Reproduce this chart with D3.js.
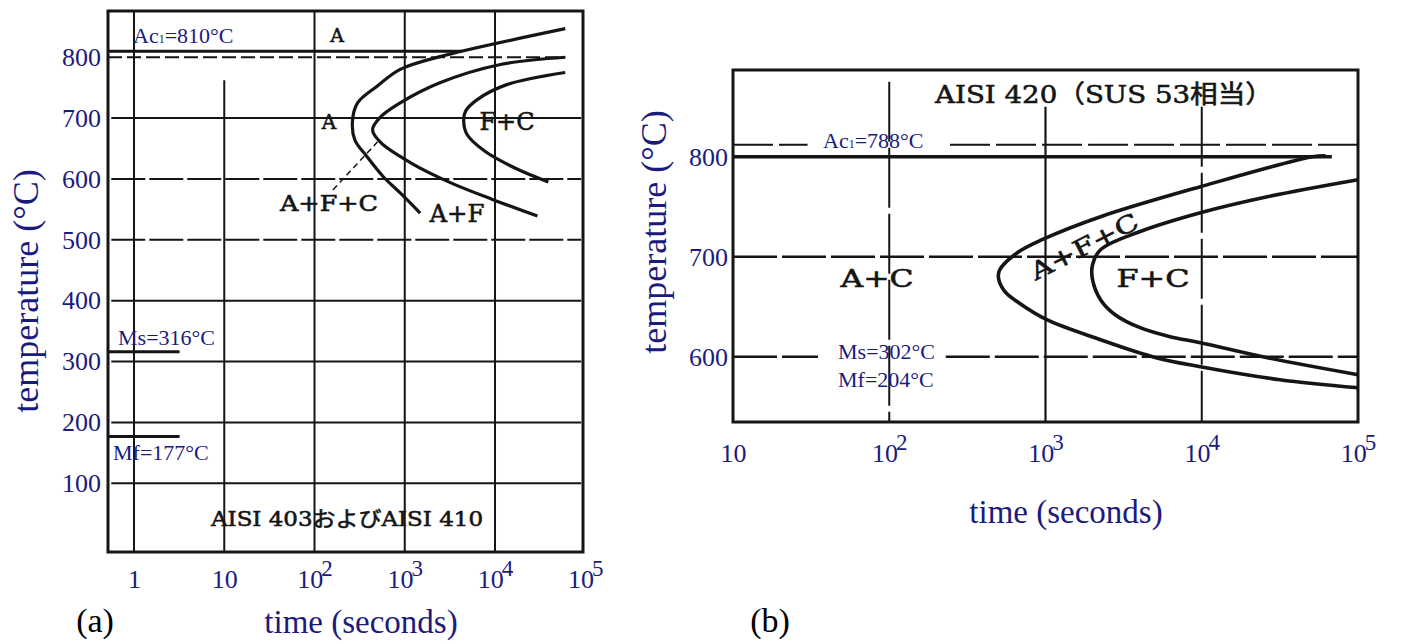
<!DOCTYPE html>
<html>
<head>
<meta charset="utf-8">
<script src="https://cdnjs.cloudflare.com/ajax/libs/d3/7.8.5/d3.min.js"></script>
<style>
body { margin: 0; background: #fff; }
</style>
</head>
<body>
<script>
// ---- panel (a): AISI 403 / AISI 410 ----
var tempTicksA = [100, 200, 300, 400, 500, 600, 700, 800];
var gridTempsA = [100, 200, 300, 400, 500, 600, 700];
var timeTicksA = [1, 10, 100, 1000, 10000, 100000];
var gridTimesA = [1, 10, 100, 1000, 10000];
var critNamesA = ["Ac1", "Ms", "Mf"];
var critTempsA = [810, 316, 177];
// transformation curves, [time s, temp C]
var curveA1 = [[60000, 847], [2450, 801], [890, 780], [490, 752], [300, 725], [263, 694],
               [280, 664], [380, 637], [575, 604], [890, 577], [1480, 544]];
var curveA2 = [[60000, 800], [11500, 788], [2450, 758], [890, 725], [540, 702], [440, 681],
               [540, 660], [1150, 627], [3200, 594], [9500, 566], [29500, 539]];
var curveA3 = [[60000, 775], [13500, 755], [6300, 730], [4700, 711], [4500, 694], [4900, 673],
               [7800, 645], [16600, 618], [39000, 595]];

// ---- panel (b): AISI 420 ----
var tempTicksB = [600, 700, 800];
var timeTicksB = [10, 100, 1000, 10000, 100000];
var critNamesB = ["Ac1", "Ms", "Mf"];
var critTempsB = [788, 302, 204];
var curveB1 = [[62000, 801], [51000, 800], [9800, 770], [2250, 740], [950, 717], [660, 704],
               [510, 687], [500, 679], [550, 665], [660, 655], [1020, 637], [2250, 617],
               [5100, 599], [9800, 590], [31600, 577], [100000, 569]];
var curveB2 = [[100000, 777], [26300, 760], [9800, 744], [4000, 725], [2250, 707], [2000, 692],
               [2000, 677], [2250, 657], [2790, 642], [4030, 629], [6270, 620], [9800, 614],
               [26300, 599], [100000, 582]];

var navy = "#1b1b7e";
var ink = "#151515";
var serif = "'Liberation Serif', 'Times New Roman', serif";
var scanFont = "'DejaVu Serif', 'Noto Sans CJK JP', serif";

var svg = d3.select("body").append("svg")
    .attr("width", 1402)
    .attr("height", 644);

var xa = d3.scaleLog().domain([0.515, 94400]).range([108, 583]);
var ya = d3.scaleLinear().domain([-13, 876]).range([552, 11]);
var xb = d3.scaleLog().domain([10, 100000]).range([733, 1358]);
var yb = d3.scaleLinear().domain([534.7, 886.7]).range([422, 70]);

function hline(x, y, t0, t1, T, w, dash) {
    svg.append("line")
        .attr("x1", x(t0)).attr("x2", x(t1))
        .attr("y1", y(T)).attr("y2", y(T))
        .attr("stroke", ink).attr("stroke-width", w)
        .attr("stroke-dasharray", dash || null);
}
function vline(x, y, t, T0, T1, w, dash) {
    svg.append("line")
        .attr("x1", x(t)).attr("x2", x(t))
        .attr("y1", y(T0)).attr("y2", y(T1))
        .attr("stroke", ink).attr("stroke-width", w)
        .attr("stroke-dasharray", dash || null);
}
function scanText(x, y, str, size, len, rot) {
    var t = svg.append("text")
        .attr("x", x).attr("y", y)
        .attr("text-anchor", "middle")
        .attr("font-family", scanFont)
        .attr("font-size", size)
        .attr("fill", ink)
        .attr("stroke", ink).attr("stroke-width", 0.6)
        .text(str);
    if (len) t.attr("textLength", len).attr("lengthAdjust", "spacingAndGlyphs");
    if (rot) t.attr("transform", "rotate(" + rot + "," + x + "," + y + ")");
    return t;
}
function critLabel(x, y, name, val) {
    var t = svg.append("text")
        .attr("x", x).attr("y", y)
        .attr("font-family", serif)
        .attr("font-size", 22)
        .attr("fill", navy);
    if (name === "Ac1") {
        t.append("tspan").text("Ac");
        t.append("tspan").attr("font-size", 12).text("1");
    } else {
        t.append("tspan").text(name);
    }
    t.append("tspan").text("=" + val + "°C");
}
function powerTicks(g) {
    g.selectAll(".tick text").each(function (d) {
        var e = Math.round(Math.log10(d));
        var t = d3.select(this).text(null);
        if (e === 0) t.text("1");
        else if (e === 1) t.text("10");
        else {
            t.append("tspan").text("10");
            t.append("tspan").attr("dy", -12).attr("dx", -2).attr("font-size", 23).text(e);
        }
    });
}

// ================= panel (a) =================
gridTempsA.forEach(function (v) {
    hline(xa, ya, 0.56, 90000, v, 2, (v === 500 || v === 600) ? "34,4" : null);
});
gridTimesA.forEach(function (t) {
    vline(xa, ya, t, t === 10 ? 762 : 876, -13, 2);
});
// Ac1 and the dashed 800 line
hline(xa, ya, 0.515, 4300, critTempsA[0], 3);
hline(xa, ya, 0.515, 60000, 800, 2.2, "14,5");
// Ms and Mf marks
hline(xa, ya, 0.515, 3.2, critTempsA[1], 3);
hline(xa, ya, 0.515, 3.2, critTempsA[2], 3);

svg.append("rect")
    .attr("x", xa.range()[0]).attr("y", ya.range()[1])
    .attr("width", xa.range()[1] - xa.range()[0])
    .attr("height", ya.range()[0] - ya.range()[1])
    .attr("fill", "none").attr("stroke", ink).attr("stroke-width", 3);

var lineA = d3.line()
    .x(function (d) { return xa(d[0]); })
    .y(function (d) { return ya(d[1]); })
    .curve(d3.curveCatmullRom.alpha(0.5));
[curveA1, curveA2, curveA3].forEach(function (c) {
    svg.append("path").attr("d", lineA(c))
        .attr("fill", "none").attr("stroke", ink).attr("stroke-width", 3.2);
});
// leader for A+F+C
svg.append("line")
    .attr("x1", xa(160)).attr("y1", ya(582))
    .attr("x2", xa(500)).attr("y2", ya(661))
    .attr("stroke", ink).attr("stroke-width", 1.5).attr("stroke-dasharray", "6,4");

scanText(337, 42, "A", 19);
scanText(329, 129, "A", 20);
scanText(507, 130, "F+C", 25, 55);
scanText(329, 211, "A+F+C", 22, 98);
scanText(457, 222, "A+F", 25, 55);
scanText(347, 526, "AISI 403およびAISI 410", 21, 272);

critLabel(133, 43, critNamesA[0], critTempsA[0]);
critLabel(118, 345, critNamesA[1], critTempsA[1]);
critLabel(113, 460, critNamesA[2], critTempsA[2]);

var yAxisA = svg.append("g")
    .attr("transform", "translate(108,0)")
    .call(d3.axisLeft(ya).tickValues(tempTicksA).tickSize(0).tickPadding(7).tickFormat(d3.format("d")));
yAxisA.select(".domain").remove();
yAxisA.attr("font-family", serif).attr("font-size", 26).selectAll("text").attr("fill", navy);

var xAxisA = svg.append("g")
    .attr("transform", "translate(0,552)")
    .call(d3.axisBottom(xa).tickValues(timeTicksA).tickSize(0).tickPadding(18));
xAxisA.select(".domain").remove();
xAxisA.attr("font-family", serif).attr("font-size", 26).selectAll("text").attr("fill", navy);
powerTicks(xAxisA);

svg.append("text")
    .attr("transform", "translate(38,291) rotate(-90)")
    .attr("text-anchor", "middle")
    .attr("font-family", serif).attr("font-size", 36).attr("fill", navy)
    .text("temperature (°C)");
svg.append("text")
    .attr("x", 361).attr("y", 633)
    .attr("text-anchor", "middle")
    .attr("font-family", serif).attr("font-size", 33).attr("fill", navy)
    .text("time (seconds)");
svg.append("text")
    .attr("x", 95).attr("y", 632)
    .attr("text-anchor", "middle")
    .attr("font-family", serif).attr("font-size", 34).attr("fill", "#000")
    .text("(a)");

// ================= panel (b) =================
// Ac1 dashed line (broken for label) and the thick 800 line
hline(xb, yb, 10, 30, 812, 2, "40,6");
hline(xb, yb, 245, 100000, 812, 2, "40,6");
hline(xb, yb, 10, 68000, 800, 3.5);
hline(xb, yb, 10, 100000, 700, 2.4, "44,5");
hline(xb, yb, 10, 35, 600, 2.4, "44,5");
hline(xb, yb, 230, 100000, 600, 2.4, "44,5");
vline(xb, yb, 100, 875, 534.7, 2, "60,6");
vline(xb, yb, 1000, 850, 534.7, 2.2);
vline(xb, yb, 10000, 850, 534.7, 2, "60,6");

svg.append("rect")
    .attr("x", xb.range()[0]).attr("y", yb.range()[1])
    .attr("width", xb.range()[1] - xb.range()[0])
    .attr("height", yb.range()[0] - yb.range()[1])
    .attr("fill", "none").attr("stroke", ink).attr("stroke-width", 3);

var lineB = d3.line()
    .x(function (d) { return xb(d[0]); })
    .y(function (d) { return yb(d[1]); })
    .curve(d3.curveCatmullRom.alpha(0.5));
[curveB1, curveB2].forEach(function (c) {
    svg.append("path").attr("d", lineB(c))
        .attr("fill", "none").attr("stroke", ink).attr("stroke-width", 3.6);
});

scanText(1104, 103, "AISI 420（SUS 53相当）", 25, 338);
scanText(877, 287, "A+C", 24, 73);
scanText(1153, 287, "F+C", 24, 73);
scanText(1088, 254, "A+F+C", 24, 118, -27);

critLabel(823, 148, critNamesB[0], critTempsB[0]);
critLabel(838, 359, critNamesB[1], critTempsB[1]);
critLabel(838, 387, critNamesB[2], critTempsB[2]);

var yAxisB = svg.append("g")
    .attr("transform", "translate(733,0)")
    .call(d3.axisLeft(yb).tickValues(tempTicksB).tickSize(0).tickPadding(5).tickFormat(d3.format("d")));
yAxisB.select(".domain").remove();
yAxisB.attr("font-family", serif).attr("font-size", 26).selectAll("text").attr("fill", navy);

var xAxisB = svg.append("g")
    .attr("transform", "translate(0,422)")
    .call(d3.axisBottom(xb).tickValues(timeTicksB).tickSize(0).tickPadding(22));
xAxisB.select(".domain").remove();
xAxisB.attr("font-family", serif).attr("font-size", 26).selectAll("text").attr("fill", navy);
powerTicks(xAxisB);

svg.append("text")
    .attr("transform", "translate(666,232) rotate(-90)")
    .attr("text-anchor", "middle")
    .attr("font-family", serif).attr("font-size", 36).attr("fill", navy)
    .text("temperature (°C)");
svg.append("text")
    .attr("x", 1066).attr("y", 523)
    .attr("text-anchor", "middle")
    .attr("font-family", serif).attr("font-size", 33).attr("fill", navy)
    .text("time (seconds)");
svg.append("text")
    .attr("x", 770).attr("y", 632)
    .attr("text-anchor", "middle")
    .attr("font-family", serif).attr("font-size", 34).attr("fill", "#000")
    .text("(b)");
</script>
</body>
</html>
